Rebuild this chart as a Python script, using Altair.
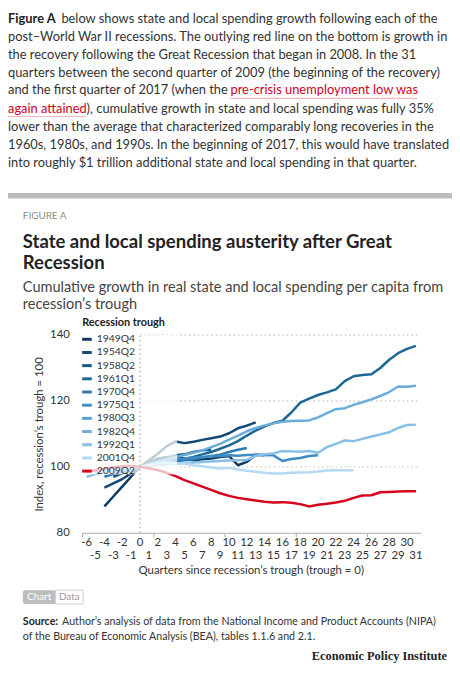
import altair as alt
import pandas as pd

# ---------------- data ----------------
troughs = ["1949Q4", "1954Q2", "1958Q2", "1961Q1", "1970Q4", "1975Q1",
           "1980Q3", "1982Q4", "1992Q1", "2001Q4", "2009Q2"]
colors = ["#0d3a66", "#114877", "#155887", "#1b6896", "#2b7bb2", "#3f8cc4",
          "#559dd2", "#6aacdc", "#88bfe8", "#b3d9f4", "#d7001d"]
first_quarter = [-4, -4, -3, -3, -4, -5, -2, -5, -6, -3, -6]

s1949Q4 = [88.0, 91.0, 94.0, 97.0, 100.0, 101.5, 102.5, 103.0, 103.0, 102.5, 102.0,
           102.3, 102.5, 103.0, 103.3, 100.5, 101.5, 103.7, 103.5]
s1954Q2 = [93.7, 95.0, 96.3, 98.0, 100.0, 102.0, 104.0, 106.3, 107.7, 107.2, 107.6,
           108.2, 108.7, 109.2, 110.2, 111.7, 112.5, 113.5]
s1958Q2 = [97.0, 98.0, 99.0, 100.0, 101.2, 102.3, 102.8, 103.5, 103.8, 104.5, 105.0, 105.2]
s1961Q1 = [98.5, 99.0, 99.5, 100.0, 100.5, 101.0, 101.5, 102.0, 102.5, 103.0, 103.8,
           104.5, 105.5, 106.5, 107.8, 109.5, 111.0, 112.3, 113.3, 114.0, 116.5, 119.5,
           120.7, 121.8, 122.6, 123.5, 126.0, 127.5, 127.9, 128.1, 130.0, 132.5, 134.5,
           135.8, 136.7]
s1970Q4 = [97.0, 97.8, 98.5, 99.3, 100.0, 100.5, 101.0, 101.3, 101.7, 102.0, 102.3,
           102.8, 103.3, 103.7, 104.5, 105.2, 105.7]
s1975Q1 = [98.0, 98.5, 99.0, 99.4, 99.8, 100.0, 100.6, 101.2, 101.8, 102.3, 102.5,
           102.8, 103.0, 103.2, 103.3, 103.5, 103.4, 103.6, 103.7, 103.6, 103.5, 101.8,
           102.4, 102.7, 103.3, 103.5]
s1980Q3 = [99.5, 99.8, 100.0, 100.6, 101.0, 101.3, 101.5]
s1982Q4 = [98.8, 99.0, 99.3, 99.6, 99.8, 100.0, 100.8, 101.5, 102.3, 103.0, 103.6,
           104.3, 105.0, 106.0, 107.0, 108.3, 109.5, 110.8, 111.8, 112.6, 113.2, 113.7,
           113.9, 114.0, 114.1, 115.0, 116.3, 117.5, 117.8, 118.8, 119.6, 120.5, 121.5,
           122.7, 124.4, 124.3, 124.6]
s1992Q1 = [97.0, 97.8, 98.5, 99.0, 99.4, 99.8, 100.0, 100.3, 100.6, 100.8, 101.0,
           101.2, 101.3, 101.5, 101.6, 101.8, 101.9, 102.0, 102.1, 103.3, 103.8, 104.1,
           104.8, 104.7, 104.6, 104.8, 104.3, 106.0, 107.0, 108.0, 107.8, 108.5, 109.2,
           109.8, 110.5, 111.8, 112.7, 112.8]
s2001Q4 = [99.0, 99.4, 99.8, 100.0, 100.5, 101.0, 101.3, 101.0, 101.0, 100.5, 100.2,
           99.8, 99.5, 99.7, 99.2, 98.8, 98.5, 98.2, 98.0, 98.0, 98.2, 98.3, 98.4, 98.6,
           98.9, 99.0, 99.0, 99.0]
s2009Q2 = [98.5, 99.0, 99.4, 99.8, 100.2, 100.3, 100.0, 99.6, 99.0, 98.2, 97.2, 96.0,
           95.0, 94.0, 93.0, 92.0, 91.2, 90.6, 90.2, 89.8, 89.4, 89.2, 89.3, 89.1, 88.7,
           88.0, 88.5, 88.8, 89.2, 89.7, 90.6, 91.3, 91.4, 92.3, 92.4, 92.5, 92.6, 92.6]
series_values = [s1949Q4, s1954Q2, s1958Q2, s1961Q1, s1970Q4, s1975Q1,
                 s1980Q3, s1982Q4, s1992Q1, s2001Q4, s2009Q2]

y_ticks = [80, 100, 120, 140]
grid_values = [100, 120, 140]
x_label_values = list(range(-6, 32))
x_tick_values = [-6.5 + 0.5 * k for k in range(77)]

paragraph = [
    ["Figure A", "below shows state and local spending growth following each of the"],
    ["post\u2013World War II recessions. The outlying red line on the bottom is growth in"],
    ["the recovery following the Great Recession that began in 2008. In the 31"],
    ["quarters between the second quarter of 2009 (the beginning of the recovery)"],
    ["and the first quarter of 2017 (when the", "pre-crisis unemployment low was"],
    ["again attained", "), cumulative growth in state and local spending was fully 35%"],
    ["lower than the average that characterized comparably long recoveries in the"],
    ["1960s, 1980s, and 1990s. In the beginning of 2017, this would have translated"],
    ["into roughly $1 trillion additional state and local spending in that quarter."],
]
figure_label = "FIGURE A"
title_lines = ["State and local spending austerity after Great", "Recession"]
subtitle_lines = ["Cumulative growth in real state and local spending per capita from",
                  "recession\u2019s trough"]
legend_title = "Recession trough"
x_title = "Quarters since recession\u2019s trough (trough = 0)"
y_title = "Index, recession\u2019s trough = 100"
source_lines = [["Source:", "Author\u2019s analysis of data from the National Income and Product Accounts (NIPA)"],
                ["of the Bureau of Economic Analysis (BEA), tables 1.1.6 and 2.1."]]
credit = "Economic Policy Institute"
buttons = ["Chart", "Data"]

# ---------------- tables ----------------
rows = []
for name, q0, vals in zip(troughs, first_quarter, series_values):
    for i, v in enumerate(vals):
        rows.append({"trough": name, "q": q0 + i, "v": v})
df = pd.DataFrame(rows)

leg = pd.DataFrame({"trough": troughs})
leg["ly"] = 4.3 + 13.33 * leg.index

xl = pd.DataFrame({"q": x_label_values})
xl["lab"] = xl["q"].astype(str)
xl_even = xl[xl["q"] % 2 == 0]
xl_odd = xl[xl["q"] % 2 != 0]

FONT = "Lato"
TXT = "#333333"

# plot area origin is page (83, 335); helpers take page coordinates
OX, OY = 83, 335

xscale = alt.Scale(domain=[-6.5, 31.5], nice=False, zero=False)
yscale = alt.Scale(domain=[80, 140], nice=False, zero=False)
cscale = alt.Scale(domain=troughs, range=colors)


def text(s, px, py, size=13, weight="normal", color=TXT, font=FONT, align="left"):
    return alt.Chart(pd.DataFrame({"t": [s]})).mark_text(
        align=align, baseline="middle", fontSize=size, fontWeight=weight,
        color=color, font=font
    ).encode(text="t:N", x=alt.value(px - OX), y=alt.value(py - OY))


def box(px1, px2, py1, py2, **kw):
    return alt.Chart(pd.DataFrame({"a": [0]})).mark_rect(**kw).encode(
        x=alt.value(px1 - OX), x2=alt.value(px2 - OX),
        y=alt.value(py1 - OY), y2=alt.value(py2 - OY))


def hline(px1, px2, py, color, width=1):
    return alt.Chart(pd.DataFrame({"a": [0]})).mark_rule(color=color, strokeWidth=width).encode(
        x=alt.value(px1 - OX), x2=alt.value(px2 - OX), y=alt.value(py - OY))


layers = []

# ---- paragraph ----
PS = 13.0
RED = "#d0021b"
py_lines = [15, 33.3, 51.7, 70, 87.7, 106, 124.3, 142.7, 161]
layers.append(text(paragraph[0][0], 8, py_lines[0], size=PS, weight="bold", color="#222"))
layers.append(text(paragraph[0][1], 62, py_lines[0], size=PS))
for i in [1, 2, 3, 6, 7, 8]:
    layers.append(text(paragraph[i][0], 8, py_lines[i], size=PS))
layers.append(text(paragraph[4][0], 8, py_lines[4], size=PS))
layers.append(text(paragraph[4][1], 233, py_lines[4], size=PS, color=RED))
layers.append(hline(233, 422, py_lines[4] + 8, "#f2b8bd", 1.2))
layers.append(text(paragraph[5][0], 8, py_lines[5], size=PS, color=RED))
layers.append(hline(8, 87, py_lines[5] + 8, "#f2b8bd", 1.2))
layers.append(text(paragraph[5][1], 87.5, py_lines[5], size=PS))

# ---- grey bar ----
layers.append(box(8, 457, 191.5, 197, color="#bdbdbd"))

# ---- figure headings ----
layers.append(text(figure_label, 23, 215, size=10, color="#8a8a8a"))
layers.append(text(title_lines[0], 23, 241.2, size=18.7, weight="bold", color="#222"))
layers.append(text(title_lines[1], 23, 262.2, size=18.7, weight="bold", color="#222"))
layers.append(text(subtitle_lines[0], 23, 287.7, size=14.7, color="#444"))
layers.append(text(subtitle_lines[1], 23, 304.3, size=14.7, color="#444"))

# ---- plot ----
grid = alt.Chart(pd.DataFrame({"v": grid_values})).mark_rule(
    color="#cccccc", strokeDash=[1.5, 3], strokeWidth=1.5
).encode(y=alt.Y("v:Q", scale=yscale), x=alt.datum(0), x2=alt.datum(31.5))
layers.append(grid)

lines = alt.Chart(df).mark_line(strokeWidth=2.5, strokeJoin="round").encode(
    x=alt.X("q:Q", scale=xscale, axis=alt.Axis(
        values=x_tick_values, labels=False, title=None,
        tickColor="#aaaaaa", domainColor="#aaaaaa", tickSize=4, tickWidth=1,
        grid=False)),
    y=alt.Y("v:Q", scale=yscale, axis=alt.Axis(
        values=y_ticks, title=y_title, grid=False, domain=False, ticks=False,
        labelPadding=13, labelFontSize=11.5, labelColor=TXT, labelFont=FONT,
        titleFont=FONT, titleFontSize=11.5, titleFontWeight="normal", titleColor=TXT,
        titlePadding=5)),
    color=alt.Color("trough:N", scale=cscale, legend=None),
    detail="trough:N",
)
layers.append(lines)

# staggered x labels (even on the first row, odd on the second)
for part, py in [(xl_even, 545.5), (xl_odd, 558.5)]:
    layers.append(alt.Chart(part).mark_text(
        align="center", baseline="middle", fontSize=11.5, font=FONT, color=TXT
    ).encode(x=alt.X("q:Q", scale=xscale), y=alt.value(py - OY), text="lab:N"))
layers.append(text(x_title, 254, 574, size=11.5, align="center"))

# white veil behind legend
veil = alt.Chart(pd.DataFrame({"a": [0]})).mark_rect(color="white", opacity=0.72).encode(
    x=alt.datum(-6.5), x2=alt.datum(4.17), y=alt.datum(97.7), y2=alt.datum(140))
layers.append(veil)

zero_rule = alt.Chart(pd.DataFrame({"a": [0]})).mark_rule(
    color="#bbbbbb", strokeDash=[1.5, 3], strokeWidth=1.5
).encode(x=alt.datum(0), y=alt.datum(80), y2=alt.datum(140))
layers.append(zero_rule)

# legend
layers.append(text(legend_title, 83, 322.7, size=11, weight="bold", color="#222"))
leg_sym = alt.Chart(leg).mark_rule(strokeWidth=3).encode(
    x=alt.value(0), x2=alt.value(9.7),
    y=alt.Y("ly:Q", scale=None),
    color=alt.Color("trough:N", scale=cscale, legend=None))
leg_txt = alt.Chart(leg).mark_text(align="left", baseline="middle", fontSize=10.5,
                                   font=FONT, color=TXT).encode(
    x=alt.value(14.7), y=alt.Y("ly:Q", scale=None), text="trough:N")
layers += [leg_sym, leg_txt]

# ---- buttons, source, credit ----
layers.append(box(23, 56, 593, 607, color="#bdbdbd", cornerRadius=2))
layers.append(box(56, 84, 593, 607, fill="white", stroke="#cccccc", strokeWidth=1))
layers.append(text(buttons[0], 39.5, 600, size=10, color="white", align="center"))
layers.append(text(buttons[1], 70, 600, size=10, color="#999999", align="center"))
layers.append(text(source_lines[0][0], 23, 625, size=10.8, weight="bold", color="#222"))
layers.append(text(source_lines[0][1], 62.7, 625, size=10.8))
layers.append(text(source_lines[1][0], 23, 640, size=10.8))
layers.append(text(credit, 452, 660, size=12.5, weight="bold", color="#222",
                   font="Liberation Serif", align="right"))

chart = alt.layer(*layers).properties(
    width=342, height=200,
    autosize=alt.AutoSizeParams(type="none"),
    padding={"left": 75, "top": 327, "right": 32, "bottom": 131},
).configure_view(stroke=None)

chart.save("out.html", embed_options={"renderer": "svg", "actions": False})
